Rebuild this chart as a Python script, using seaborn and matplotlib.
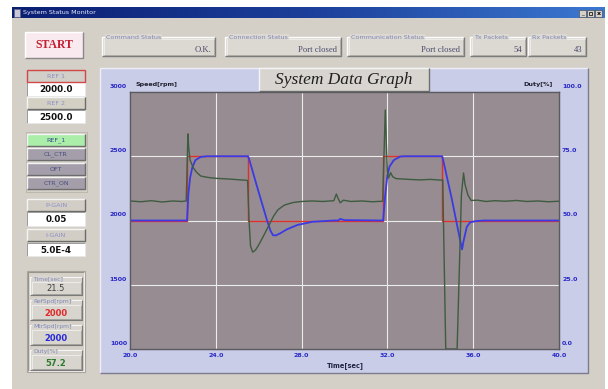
import matplotlib
matplotlib.use("Agg")
import matplotlib.pyplot as plt
import matplotlib.patches as mpatches
from matplotlib.transforms import ScaledTranslation
import numpy as np
import pandas as pd
import seaborn as sns

# ---------------------------------------------------------------- signals
ref_t = [20.0, 22.66, 22.66, 25.50, 25.50, 31.80, 31.80, 34.55, 34.55, 40.0]
ref_rpm = [2000, 2000, 2500, 2500, 2000, 2000, 2500, 2500, 2000, 2000]

mtr_t = [20.0, 22.66, 22.72, 22.80, 22.90, 23.05, 23.30, 23.60, 25.50,
         25.55, 26.00, 26.39, 26.55, 26.67, 26.80, 27.00, 27.30, 27.80,
         28.50, 29.50, 29.70, 29.80, 30.00, 31.80,
         31.90, 32.00, 32.10, 32.30, 32.60, 32.80, 34.55,
         34.60, 35.00, 35.35, 35.48, 35.55, 35.70, 35.85, 36.10, 36.50, 40.0]
mtr_rpm = [2000, 2000, 2200, 2330, 2410, 2470, 2495, 2500, 2500,
           2480, 2220, 2000, 1920, 1885, 1884, 1900, 1930, 1965,
           1990, 2000, 2000, 2012, 2003, 2000,
           2200, 2350, 2420, 2470, 2498, 2500, 2500,
           2470, 2170, 1880, 1775, 1840, 1950, 1985, 1995, 2000, 2000]

duty_t = [20.0, 20.5, 21.0, 21.5, 22.0, 22.4, 22.62, 22.66, 22.70, 22.74,
          22.80, 22.95, 23.10, 23.30, 23.60, 24.0, 24.5, 25.0, 25.48,
          25.55, 25.62, 25.72, 25.85, 26.0, 26.2, 26.5, 26.7, 26.9, 27.2,
          27.6, 28.0, 28.5, 29.0, 29.5, 29.62, 29.70, 29.80, 29.95, 30.3,
          30.8, 31.3, 31.78, 31.84, 31.90, 31.95, 32.0, 32.05, 32.15, 32.25,
          32.4, 33.0, 33.5, 34.0, 34.5, 34.58, 34.72, 35.25, 35.45, 35.55,
          35.62, 35.75, 35.90, 36.2, 36.6, 37.0, 37.5, 38.0, 38.5, 39.0,
          39.5, 40.0]
duty_pct = [57.6, 57.3, 57.7, 57.2, 57.6, 57.4, 57.6, 70.0, 83.7, 78.0,
            73.5, 70.5, 68.8, 67.3, 66.8, 66.4, 66.2, 65.9, 65.6,
            50.0, 40.0, 37.7, 38.5, 40.5, 43.6, 48.5, 51.8, 54.2, 56.0,
            57.0, 57.4, 57.6, 57.4, 57.7, 60.3, 58.6, 56.9, 57.9, 57.4,
            57.6, 57.3, 57.5, 75.0, 93.0, 80.0, 69.0, 66.5, 68.6, 67.0,
            66.3, 66.0, 65.8, 66.0, 65.7, 65.8, 0.0, 0.0, 60.0, 68.5,
            64.0, 60.0, 57.8, 57.9, 57.4, 57.7, 57.5, 57.8, 57.4, 57.6,
            57.3, 57.5]

x_ticks = [20, 24, 28, 32, 36, 40]
x_tick_labels = ["20.0", "24.0", "28.0", "32.0", "36.0", "40.0"]
speed_ticks = [1000, 1500, 2000, 2500, 3000]
speed_tick_labels = ["1000", "1500", "2000", "2500", "3000"]
duty_ticks = [0, 25, 50, 75, 100]
duty_tick_labels = ["0.0", "25.0", "50.0", "75.0", "100.0"]

status_titles = ["Command Status", "Connection Status", "Communication Status",
                 "Tx Packets", "Rx Packets"]
status_values = ["O.K.", "Port closed", "Port closed", "54", "43"]
control_labels = ["REF_1", "CL_CTR", "OFT", "CTR_ON"]
readout_labels = ["Time[sec]", "RefSpd[rpm]", "MtrSpd[rpm]", "Duty[%]"]
readout_values = ["21.5", "2000", "2000", "57.2"]
readout_colors = ["#404040", "#e02828", "#2828d8", "#2a7a2a"]

# ---------------------------------------------------------------- window
W, H = 608, 389
fig = plt.figure(figsize=(W / 100, H / 100), dpi=100, facecolor="white")
ui = fig.add_axes([0, 0, 1, 1], zorder=0)
ui.axis("off")

GRAY = "#d4d0c8"


def box(x0, y0, x1, y1, fc, ec="none", lw=0.8, z=1):
    ui.add_patch(mpatches.Rectangle((x0, y0), x1 - x0, y1 - y0, facecolor=fc,
                                    edgecolor=ec, linewidth=lw, zorder=z))


def bevel(x0, y0, x1, y1, light="#ffffff", dark="#808080", lw=0.8, z=2):
    ui.plot([x0, x0, x1], [y1, y0, y0], color=light, lw=lw, zorder=z,
            solid_capstyle="butt")
    ui.plot([x0, x1, x1], [y1, y1, y0], color=dark, lw=lw, zorder=z,
            solid_capstyle="butt")


def label(x, y, s, size=4.6, color="#8088b8", ha="left", weight="normal",
          family="DejaVu Sans", style="normal", z=4):
    ui.text(x, y, s, fontsize=size, color=color, ha=ha, va="center",
            fontweight=weight, family=family, style=style, zorder=z)


# body and title bar
box(12, 7, 605, H, GRAY)
grad = np.linspace(0, 1, 256).reshape(1, -1)
cmap = matplotlib.colors.LinearSegmentedColormap.from_list(
    "bar", ["#0a1f72", "#1c3f9a", "#3c78d0"])
ui.imshow(grad, cmap=cmap, extent=(12, 605, 18, 7), aspect="auto", zorder=2)
box(13.5, 9, 20, 16.5, "#c8c8d8", "#606080", lw=0.5, z=3)
label(23, 12.5, "System Status Monitor", size=4.6, color="#e8ecff")
for bx in (579, 587, 595):
    box(bx, 9.5, bx + 7, 16.5, GRAY, "#404040", lw=0.4, z=3)
label(582.5, 13.5, "_", size=4, color="black", ha="center")
box(589, 11.5, 592, 14.5, "none", "black", lw=0.5, z=4)
label(598.5, 13, "x", size=4.5, color="black", ha="center", weight="bold")

# START button
box(25, 32, 83, 58, "#f8eaee")
bevel(25, 32, 83, 58, light="#ffffff", dark="#8c8888", lw=1.0)
label(54, 45, "START", size=8.5, color="#c41e32", ha="center", weight="bold",
      family="Liberation Serif")

# status group boxes
status_x = [(102, 215), (225, 341), (347, 464), (470, 526), (528, 586)]
for (x0, x1), title, val in zip(status_x, status_titles, status_values):
    box(x0, 37, x1, 56, "#dcd9d3")
    bevel(x0, 37, x1, 56, light="#fbfbfb", dark="#7c7c7c", lw=1.0)
    bevel(x0 + 1.5, 38.5, x1 - 1.5, 54.5, light="#f0efec", dark="#a8a6a0", lw=0.6)
    ui.text(x0 + 4, 37.5, title, fontsize=4.6, color="#8088b8", ha="left",
            va="center", zorder=5,
            bbox=dict(boxstyle="square,pad=0.12", fc="#dcd9d3", ec="none"))
    label(x1 - 4, 49.5, val, size=6.2, color="#4a4a6a", ha="right",
          family="Liberation Serif")

# left control column
LX0, LX1 = 27, 85


def button(y0, y1, text, fc, tc, ec=None):
    box(LX0, y0, LX1, y1, fc)
    if ec:
        box(LX0, y0, LX1, y1, "none", ec, lw=1.0, z=3)
    else:
        bevel(LX0, y0, LX1, y1, light="#f4f4f4", dark="#6c6c6c", lw=1.0)
    label((LX0 + LX1) / 2, (y0 + y1) / 2, text, size=4.6, color=tc, ha="center")


def field(y0, y1, text):
    box(LX0, y0, LX1, y1, "white")
    bevel(LX0, y0, LX1, y1, light="#9a9a9a", dark="#e8e8e8", lw=0.7)
    label((LX0 + LX1) / 2, (y0 + y1) / 2 + 0.5, text, size=6.3, color="#101010",
          ha="center", weight="bold")


button(70, 82, "REF 1", "#d2cec8", "#8c90c8", ec="#d04848")
field(82, 96, "2000.0")
button(97, 109, "REF 2", "#d4d0c4", "#8c90c8")
field(110, 123, "2500.0")

box(LX0 - 1.5, 132, LX1 + 1.5, 192, "none", "#b8b4ac", lw=0.6)
ctrl_rows = [(134, 146), (148, 160), (163, 175), (177, 189)]
for (y0, y1), txt in zip(ctrl_rows, control_labels):
    fc = "#aaeeaa" if txt == "REF_1" else "#a49eaa"
    button(y0, y1, txt, fc, "#3c4a8c" if txt == "REF_1" else "#4a4f80")

button(199, 211, "P-GAIN", "#d2cec6", "#8c90c8")
field(212, 226, "0.05")
button(229, 241, "I-GAIN", "#d2cec6", "#8c90c8")
field(243, 256, "5.0E-4")

box(LX0, 271, LX1, 372, "none", "#a8a49c", lw=0.8)
bevel(LX0 + 1, 272, LX1 - 1, 371, light="#8c8880", dark="#f4f4f4", lw=0.6)
read_rows = [(277, 295), (300, 320), (325, 345), (350, 370)]
for (y0, y1), name, val, col in zip(read_rows, readout_labels,
                                     readout_values, readout_colors):
    box(30, y0, 82, y1, "#d8d5cf")
    bevel(30, y0, 82, y1, light="#f6f6f6", dark="#7a7a7a", lw=0.8)
    bevel(31.5, y0 + 5, 80.5, y1 - 1.5, light="#f0f0f0", dark="#9c9a94", lw=0.6)
    ui.text(33, y0 + 1.5, name, fontsize=4.3, color="#8088b8", ha="left",
            va="center", zorder=5,
            bbox=dict(boxstyle="square,pad=0.1", fc="#d8d5cf", ec="none"))
    label(56, y1 - 6.5, val, size=6.0, color=col, ha="center",
          weight="bold" if col != "#404040" else "normal")

# chart panel and title
box(100, 68, 588, 373, "#c9cde8")
bevel(100, 68, 588, 373, light="#eeeef8", dark="#7c7c8c", lw=1.0)
box(259, 68, 429, 91, "#d8d5d0", z=2)
bevel(259, 68, 429, 91, light="#f4f4f4", dark="#707070", lw=1.0, z=3)
label(344, 80, "System Data Graph", size=12.5, color="#202020", ha="center",
      family="Liberation Serif", style="italic")
label(136, 84.5, "Speed[rpm]", size=4.6, color="#202030", weight="bold")
label(553, 84.5, "Duty[%]", size=4.6, color="#202030", ha="right", weight="bold")
label(345, 365.5, "Time[sec]", size=4.8, color="#202040", ha="center",
      weight="bold")

ui.set_xlim(0, W)
ui.set_ylim(H, 0)

# ---------------------------------------------------------------- plot
PL, PR, PT, PB = 130, 559, 92, 349
ax = fig.add_axes([PL / W, 1 - PB / H, (PR - PL) / W, (PB - PT) / H], zorder=2)
ax.set_facecolor("#968c91")

ref_df = pd.DataFrame({"t": ref_t, "rpm": ref_rpm})
mtr_df = pd.DataFrame({"t": mtr_t, "rpm": mtr_rpm})
duty_df = pd.DataFrame({"t": duty_t, "duty": duty_pct})

sns.lineplot(data=ref_df, x="t", y="rpm", ax=ax, color="#e0302c", lw=1.0,
             estimator=None, sort=False, zorder=3)
sns.lineplot(data=mtr_df, x="t", y="rpm", ax=ax, color="#3a3ae6", lw=1.3,
             estimator=None, sort=False, zorder=4)

ax.set_xlim(20, 40)
ax.set_ylim(1000, 3000)
ax.set_xticks(x_ticks, x_tick_labels)
ax.set_yticks(speed_ticks, speed_tick_labels)
ax.grid(True, color="#ececec", lw=0.8, zorder=1)
ax.set_axisbelow(True)
ax.set_xlabel("")
ax.set_ylabel("")
ax.tick_params(axis="both", length=0, labelsize=4.5, labelcolor="#2828c8")
ax.tick_params(axis="y", pad=2.2)
ax.tick_params(axis="x", pad=3.0)
for lab in ax.get_xticklabels() + ax.get_yticklabels():
    lab.set_fontweight("bold")

ax2 = ax.twinx()
ax2.set_zorder(3)
sns.lineplot(data=duty_df, x="t", y="duty", ax=ax2, color="#3e5c40", lw=1.0,
             estimator=None, sort=False)
ax2.set_ylim(0, 100)
ax2.set_yticks(duty_ticks, duty_tick_labels)
ax2.set_ylabel("")
ax2.tick_params(axis="y", length=0, labelsize=4.5, labelcolor="#2828c8", pad=2.2)
for lab in ax2.get_yticklabels():
    lab.set_fontweight("bold")

# value labels sit just above their grid lines
lift = ScaledTranslation(0, 6 / 100, fig.dpi_scale_trans)
for lab in ax.get_yticklabels() + ax2.get_yticklabels():
    lab.set_transform(lab.get_transform() + lift)

for a in (ax, ax2):
    for side, sp in a.spines.items():
        sp.set_color("#5a5a60")
        sp.set_linewidth(0.9)
        sp.set_zorder(6)

fig.savefig("out.png", dpi=100, facecolor="white")
